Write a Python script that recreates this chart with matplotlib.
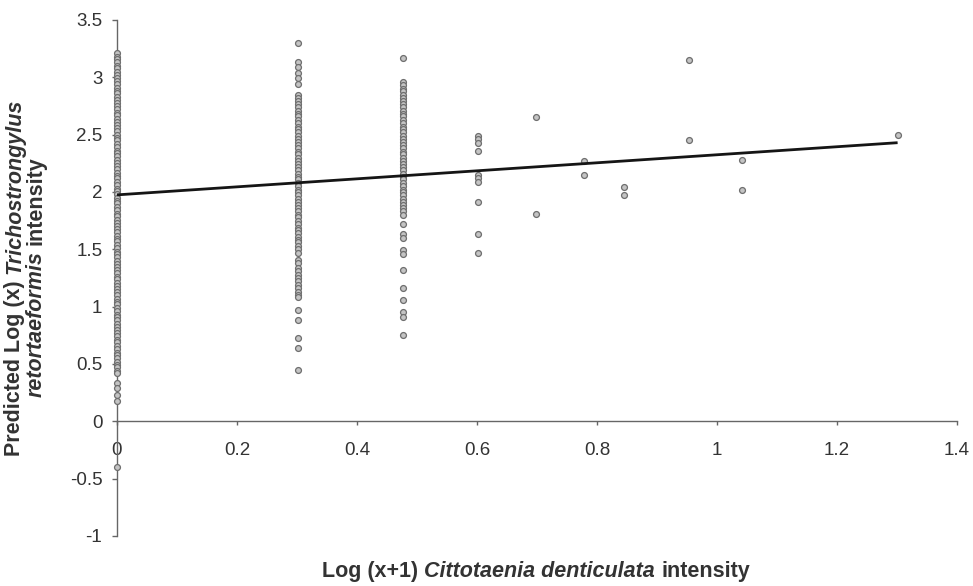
import numpy as np
import matplotlib
matplotlib.use('Agg')
import matplotlib.pyplot as plt

plt.rcParams['font.family'] = ['Liberation Sans', 'DejaVu Sans']

# Log(x+1) Cittotaenia intensity levels and predicted Log(x) Trichostrongylus values
y_at_000 = [3.21, 3.18, 3.16, 3.13, 3.10, 3.08, 3.05, 3.02, 2.99, 2.97, 2.94, 2.91,
            2.88, 2.86, 2.83, 2.80, 2.78, 2.75, 2.72, 2.69, 2.67, 2.64, 2.61, 2.58,
            2.56, 2.53, 2.50, 2.47, 2.45, 2.42, 2.39, 2.36, 2.34, 2.31, 2.28, 2.25,
            2.23, 2.20, 2.17, 2.14, 2.12, 2.09, 2.06, 2.03, 2.01, 1.98, 1.95, 1.92,
            1.90, 1.87, 1.84, 1.81, 1.79, 1.76, 1.73, 1.70, 1.68, 1.65, 1.62, 1.59,
            1.57, 1.54, 1.51, 1.48, 1.46, 1.43, 1.40, 1.37, 1.35, 1.32, 1.29, 1.26,
            1.24, 1.21, 1.18, 1.15, 1.13, 1.10, 1.07, 1.04, 1.02, 0.99, 0.96, 0.93,
            0.91, 0.88, 0.85, 0.82, 0.80, 0.77, 0.74, 0.71, 0.69, 0.66, 0.63, 0.60,
            0.58, 0.55, 0.52, 0.49, 0.47, 0.44, 0.42, 0.33, 0.29, 0.23, 0.18, -0.40]
y_at_030 = [3.30, 3.13, 3.09, 3.04, 2.99, 2.94, 2.85, 2.82, 2.79, 2.77, 2.74, 2.71,
            2.68, 2.66, 2.63, 2.60, 2.57, 2.55, 2.52, 2.49, 2.46, 2.44, 2.41, 2.38,
            2.35, 2.33, 2.30, 2.27, 2.24, 2.22, 2.19, 2.16, 2.13, 2.11, 2.08, 2.05,
            2.02, 2.00, 1.97, 1.94, 1.91, 1.89, 1.86, 1.83, 1.80, 1.78, 1.75, 1.72,
            1.69, 1.67, 1.64, 1.61, 1.58, 1.56, 1.53, 1.50, 1.47, 1.41, 1.38, 1.34,
            1.31, 1.28, 1.25, 1.22, 1.19, 1.16, 1.13, 1.10, 1.08, 0.97, 0.88, 0.73,
            0.64, 0.45]
y_at_048 = [3.17, 2.96, 2.93, 2.90, 2.88, 2.85, 2.82, 2.79, 2.77, 2.74, 2.71, 2.68,
            2.66, 2.63, 2.60, 2.57, 2.55, 2.52, 2.49, 2.46, 2.44, 2.41, 2.38, 2.35,
            2.33, 2.30, 2.27, 2.24, 2.22, 2.19, 2.16, 2.13, 2.11, 2.08, 2.05, 2.02,
            2.00, 1.97, 1.94, 1.91, 1.89, 1.86, 1.83, 1.80, 1.72, 1.63, 1.60, 1.49,
            1.46, 1.32, 1.16, 1.06, 0.95, 0.91, 0.75]
y_at_060 = [2.49, 2.46, 2.43, 2.36, 2.15, 2.12, 2.09, 1.91, 1.63, 1.47]
y_at_070 = [2.65, 1.81]
y_at_078 = [2.27, 2.15]
y_at_085 = [2.04, 1.97]
y_at_095 = [3.15, 2.45]
y_at_104 = [2.28, 2.02]
y_at_130 = [2.50]

x_levels = [0.0, 0.301, 0.477, 0.602, 0.699, 0.778, 0.845, 0.954, 1.041, 1.301]
y_groups = [y_at_000, y_at_030, y_at_048, y_at_060, y_at_070,
            y_at_078, y_at_085, y_at_095, y_at_104, y_at_130]

# fitted regression line
line_x = [0.0, 1.301]
line_y = [1.975, 2.43]

x_ticks = [0, 0.2, 0.4, 0.6, 0.8, 1.0, 1.2, 1.4]
x_tick_labels = ['0', '0.2', '0.4', '0.6', '0.8', '1', '1.2', '1.4']
y_ticks = [-1, -0.5, 0, 0.5, 1, 1.5, 2, 2.5, 3, 3.5]
y_tick_labels = ['-1', '-0.5', '0', '0.5', '1', '1.5', '2', '2.5', '3', '3.5']

W, H = 973, 586
fig = plt.figure(figsize=(W / 100, H / 100), dpi=100)
ax = fig.add_axes([117 / W, 50 / H, 840 / W, 516 / H])

for xv, ys in zip(x_levels, y_groups):
    ax.scatter([xv] * len(ys), ys, s=18, marker='o', facecolors='#c4c4c4',
               edgecolors='#6e6e6e', linewidths=0.9, clip_on=False, zorder=3)

ax.plot(line_x, line_y, color='#151515', lw=2, zorder=4, solid_capstyle='butt')

ax.set_xlim(0, 1.4)
ax.set_ylim(-1, 3.5)
for side in ['top', 'right']:
    ax.spines[side].set_visible(False)
ax.spines['bottom'].set_position(('data', 0))
for side in ['left', 'bottom']:
    ax.spines[side].set_color('#666666')
    ax.spines[side].set_linewidth(1)

ax.set_xticks(x_ticks)
ax.set_xticklabels(x_tick_labels)
ax.set_yticks(y_ticks)
ax.set_yticklabels(y_tick_labels)
ax.tick_params(axis='y', direction='out', length=3.6, width=1, pad=7,
               labelsize=13.5, color='#666666', labelcolor='#333333')
ax.tick_params(axis='x', direction='out', length=2.9, width=1, pad=12,
               labelsize=13.5, color='#666666', labelcolor='#333333')

# axis titles with mixed bold / bold-italic pieces
renderer = fig.canvas.get_renderer()
FS = 15.5


def piece_width(s, style):
    t = fig.text(0, 0, s, fontsize=FS, fontweight='bold', fontstyle=style)
    w = t.get_window_extent(renderer).width
    t.remove()
    return w


def mixed_label(cx, cy, pieces, rotation=0):
    space = piece_width('a a', 'normal') - piece_width('aa', 'normal')
    widths = [piece_width(s, st) for s, st in pieces]
    total = sum(widths) + space * (len(pieces) - 1)
    pos = -total / 2
    for (s, st), w in zip(pieces, widths):
        if rotation == 0:
            fig.text((cx + pos) / W, cy / H, s, fontsize=FS, fontweight='bold',
                     fontstyle=st, color='#333333', ha='left', va='baseline')
        else:
            fig.text(cx / W, (cy + pos) / H, s, fontsize=FS, fontweight='bold',
                     fontstyle=st, color='#333333', ha='left', va='baseline',
                     rotation=90, rotation_mode='anchor')
        pos += w + space


mixed_label(536, H - 577, [('Log (x+1)', 'normal'),
                           ('Cittotaenia denticulata', 'italic'),
                           ('intensity', 'normal')])
mixed_label(20, H - 277, [('Predicted Log (x)', 'normal'),
                          ('Trichostrongylus', 'italic')], rotation=90)
mixed_label(42, H - 277, [('retortaeformis', 'italic'),
                          ('intensity', 'normal')], rotation=90)

fig.savefig('out.png', dpi=100)
